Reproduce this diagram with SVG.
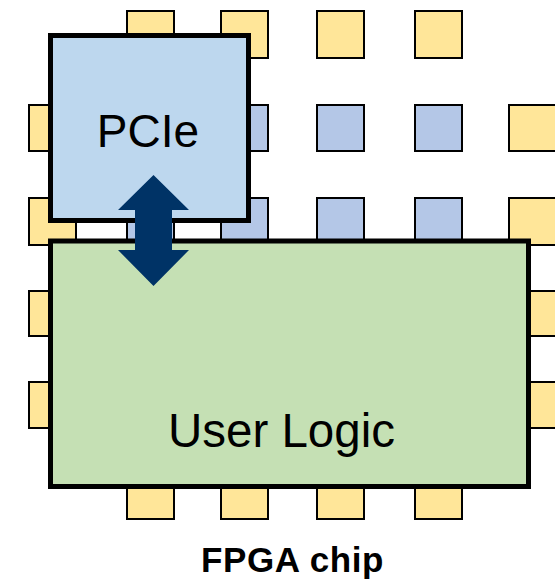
<svg xmlns="http://www.w3.org/2000/svg" width="555" height="580" viewBox="0 0 555 580">
<style>
.pad{stroke:#000;stroke-width:2}
.y{fill:#FFE699}
.b{fill:#B4C7E7}
.box{stroke:#000;stroke-width:5}
.lbl{font-family:"Liberation Sans",Arial,sans-serif;font-size:46px;fill:#000;text-anchor:middle}
.cap{font-family:"Liberation Sans",Arial,sans-serif;font-size:35px;font-weight:bold;fill:#000;text-anchor:middle;letter-spacing:0.6px}
</style>
<rect width="555" height="580" fill="#fff"/>
<g id="pads">
<rect class="pad y" x="127" y="11" width="47" height="47"/>
<rect class="pad y" x="221" y="11" width="47" height="47"/>
<rect class="pad y" x="317" y="11" width="47" height="47"/>
<rect class="pad y" x="415" y="11" width="47" height="47"/>
<rect class="pad y" x="29" y="105" width="47" height="46"/>
<rect class="pad b" x="127" y="105" width="47" height="46"/>
<rect class="pad b" x="221" y="105" width="47" height="46"/>
<rect class="pad b" x="317" y="105" width="47" height="46"/>
<rect class="pad b" x="415" y="105" width="47" height="46"/>
<rect class="pad y" x="509" y="105" width="60" height="46"/>
<rect class="pad y" x="29" y="198" width="47" height="47"/>
<rect class="pad b" x="127" y="198" width="47" height="47"/>
<rect class="pad b" x="221" y="198" width="47" height="47"/>
<rect class="pad b" x="317" y="198" width="47" height="47"/>
<rect class="pad b" x="415" y="198" width="47" height="47"/>
<rect class="pad y" x="509" y="198" width="60" height="47"/>
<rect class="pad y" x="29" y="291" width="47" height="45"/>
<rect class="pad y" x="509" y="291" width="60" height="45"/>
<rect class="pad y" x="29" y="382" width="47" height="46"/>
<rect class="pad y" x="509" y="382" width="60" height="46"/>
<rect class="pad y" x="127" y="473" width="47" height="46"/>
<rect class="pad y" x="221" y="473" width="47" height="46"/>
<rect class="pad y" x="317" y="473" width="47" height="46"/>
<rect class="pad y" x="415" y="473" width="47" height="46"/>
</g>
<g id="pcie">
<rect class="box" x="50.5" y="35.5" width="198" height="185" fill="#BDD7EE"/>
<text class="lbl" x="148" y="147">PCIe</text>
</g>
<g id="user-logic">
<rect class="box" x="50.5" y="241" width="478" height="245.5" fill="#C5E0B4"/>
<text class="lbl" x="281.5" y="447" style="font-size:47.5px">User Logic</text>
</g>
<g id="connectors">
<polygon points="153.5,175 189,210 172,210 172,250 189,250 153.5,286 118,250 135,250 135,210 118,210" fill="#003366"/>
</g>
<g id="caption">
<text class="cap" x="292.5" y="572">FPGA chip</text>
</g>
</svg>
